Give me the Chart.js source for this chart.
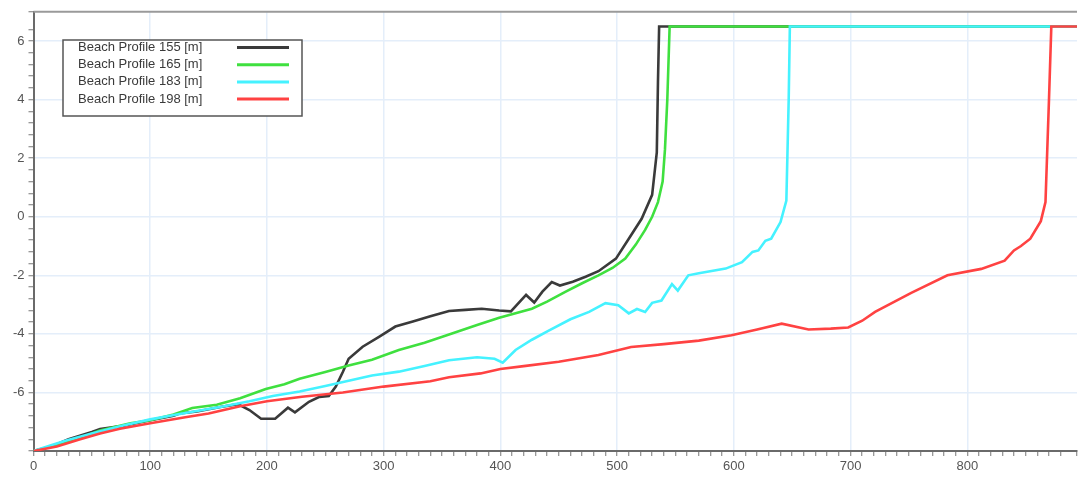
<!DOCTYPE html>
<html>
<head>
<meta charset="utf-8">
<script src="https://cdn.jsdelivr.net/npm/chart.js@4/dist/chart.umd.min.js"></script>
<style>
  html, body { margin: 0; padding: 0; background: #ffffff; }
  #wrap { width: 1080px; height: 483px; position: relative; }
</style>
</head>
<body>
<div id="wrap"><canvas id="c" width="1080" height="483"></canvas></div>
<script>
// ---- Data (distance [m] vs level [m]) ----
const seriesLabels = ["Beach Profile 155 [m]", "Beach Profile 165 [m]", "Beach Profile 183 [m]", "Beach Profile 198 [m]"];
const seriesColors = ["#3a3a3a", "#3fe03f", "#45f2ff", "#ff4242"];

const x155 = [0, 15, 30, 50, 57, 75, 100, 120, 125, 140, 160, 175, 185, 195, 207, 218, 224, 236, 245, 253, 259, 265, 270, 282, 296, 310, 325, 340, 356, 370, 384, 399, 409, 422, 429, 436, 444, 451, 462, 473, 484, 499, 510, 521, 530, 534, 535, 536, 894];
const y155 = [-8.0, -7.85, -7.6, -7.35, -7.25, -7.15, -6.95, -6.8, -6.72, -6.65, -6.5, -6.4, -6.6, -6.9, -6.9, -6.52, -6.68, -6.32, -6.15, -6.12, -5.8, -5.3, -4.85, -4.44, -4.1, -3.75, -3.58, -3.4, -3.22, -3.18, -3.14, -3.2, -3.23, -2.67, -2.93, -2.56, -2.23, -2.35, -2.22, -2.05, -1.86, -1.43, -0.75, -0.07, 0.75, 2.2, 4.6, 6.5, 6.5];

const x165 = [0, 20, 40, 57, 83, 100, 120, 136, 157, 177, 199, 215, 228, 250, 270, 290, 313, 335, 356, 380, 399, 427, 440, 456, 470, 484, 496, 507, 516, 524, 530, 535, 539, 541, 543, 545, 894];
const y165 = [-8.0, -7.8, -7.55, -7.3, -7.05, -6.95, -6.75, -6.53, -6.42, -6.2, -5.88, -5.72, -5.53, -5.3, -5.08, -4.88, -4.55, -4.3, -4.02, -3.7, -3.45, -3.14, -2.9, -2.56, -2.27, -2.0, -1.75, -1.43, -0.95, -0.45, 0.0, 0.5, 1.2, 2.3, 4.0, 6.5, 6.5];

const x183 = [0, 15, 28, 50, 75, 100, 130, 160, 185, 205, 228, 250, 270, 290, 313, 335, 356, 380, 395, 402, 413, 427, 441, 460, 476, 490, 501, 510, 517, 524, 530, 538, 547, 552, 561, 570, 593, 607, 616, 621, 627, 632, 640, 645, 647, 648, 894];
const y183 = [-8.0, -7.8, -7.64, -7.4, -7.15, -6.92, -6.7, -6.5, -6.3, -6.12, -5.97, -5.78, -5.6, -5.42, -5.29, -5.1, -4.9, -4.8, -4.85, -4.98, -4.55, -4.2, -3.9, -3.5, -3.25, -2.95, -3.02, -3.3, -3.15, -3.25, -2.94, -2.86, -2.3, -2.52, -2.0, -1.93, -1.77, -1.55, -1.2, -1.15, -0.82, -0.75, -0.18, 0.55, 4.0, 6.5, 6.5];

const x198 = [0, 20, 40, 57, 74, 100, 130, 150, 177, 200, 230, 265, 300, 340, 356, 383, 400, 420, 450, 484, 512, 540, 570, 598, 620, 641, 664, 683, 698, 710, 721, 752, 783, 812, 832, 840, 846, 854, 863, 867, 870, 872, 894];
const y198 = [-8.0, -7.85, -7.6, -7.4, -7.24, -7.05, -6.85, -6.72, -6.47, -6.3, -6.15, -6.0, -5.8, -5.62, -5.48, -5.35, -5.2, -5.1, -4.95, -4.72, -4.45, -4.35, -4.23, -4.05, -3.85, -3.65, -3.85, -3.82, -3.78, -3.55, -3.25, -2.6, -2.0, -1.78, -1.5, -1.15, -1.0, -0.75, -0.15, 0.5, 4.0, 6.5, 6.5];

const xMin = 0, xMax = 894, yMin = -8, yMax = 7;
// ------------------------------------------

const xsAll = [x155, x165, x183, x198];
const ysAll = [y155, y165, y183, y198];
const FONT = "'Liberation Sans', Arial, sans-serif";

const datasets = seriesLabels.map((lab, i) => ({
  label: lab,
  data: xsAll[i].map((x, k) => ({ x: x, y: ysAll[i][k] })),
  borderColor: seriesColors[i],
  backgroundColor: seriesColors[i],
  borderWidth: 2.6,
  pointRadius: 0,
  tension: 0,
  fill: false,
  order: 4 - i
}));

const frame = {
  id: 'frame',
  afterDraw(chart) {
    const ctx = chart.ctx, a = chart.chartArea;
    ctx.save();
    // top border
    ctx.strokeStyle = '#9a9a9a';
    ctx.lineWidth = 2;
    ctx.beginPath();
    ctx.moveTo(a.left, a.top);
    ctx.lineTo(a.right, a.top);
    ctx.stroke();
    // legend box
    const bx = 63, by = 40, bw = 239, bh = 76;
    ctx.fillStyle = '#ffffff';
    ctx.fillRect(bx, by, bw, bh);
    ctx.strokeStyle = '#555555';
    ctx.lineWidth = 1.5;
    ctx.strokeRect(bx, by, bw, bh);
    ctx.font = '13px ' + FONT;
    ctx.textBaseline = 'middle';
    ctx.textAlign = 'left';
    chart.data.datasets.forEach((ds, i) => {
      const cy = 47.5 + i * 17.2;
      ctx.fillStyle = '#3a3a3a';
      ctx.fillText(ds.label, 78, cy);
      ctx.strokeStyle = ds.borderColor;
      ctx.lineWidth = 3;
      ctx.beginPath();
      ctx.moveTo(237, cy);
      ctx.lineTo(289, cy);
      ctx.stroke();
    });
    ctx.restore();
  }
};

const isMult = (v, m) => Math.abs(v / m - Math.round(v / m)) < 1e-6;

new Chart(document.getElementById('c'), {
  type: 'line',
  data: { datasets: datasets },
  options: {
    responsive: false,
    animation: false,
    events: [],
    layout: { padding: { top: 11, right: 0, left: 0, bottom: 0 } },
    plugins: { legend: { display: false }, tooltip: { enabled: false } },
    scales: {
      x: {
        type: 'linear',
        min: xMin, max: xMax,
        ticks: {
          stepSize: 10,
          autoSkip: false,
          maxRotation: 0,
          padding: 3,
          color: '#555555',
          font: { size: 13, family: FONT },
          callback: (v) => isMult(v, 100) ? String(Math.round(v)) : ''
        },
        grid: {
          color: (c) => (c.tick && isMult(c.tick.value, 100) && c.tick.value > 0) ? '#e4eefa' : 'rgba(0,0,0,0)',
          lineWidth: 1.5,
          tickColor: '#777777',
          tickLength: 5,
          tickWidth: 1
        },
        border: { color: '#6a6a6a', width: 2 },
        afterFit: (s) => { s.height = 32; }
      },
      y: {
        type: 'linear',
        min: yMin, max: yMax,
        ticks: {
          stepSize: 0.4,
          autoSkip: false,
          padding: 4,
          color: '#555555',
          font: { size: 13, family: FONT },
          callback: (v) => (isMult(v, 2) && v > yMin) ? String(Math.round(v)) : ''
        },
        grid: {
          color: (c) => (c.tick && isMult(c.tick.value, 2) && c.tick.value > yMin) ? '#e4eefa' : 'rgba(0,0,0,0)',
          lineWidth: 1.5,
          tickColor: '#777777',
          tickLength: 5,
          tickWidth: 1
        },
        border: { color: '#6a6a6a', width: 2 },
        afterFit: (s) => { s.width = 33.5; }
      }
    }
  },
  plugins: [frame]
});
</script>
</body>
</html>
